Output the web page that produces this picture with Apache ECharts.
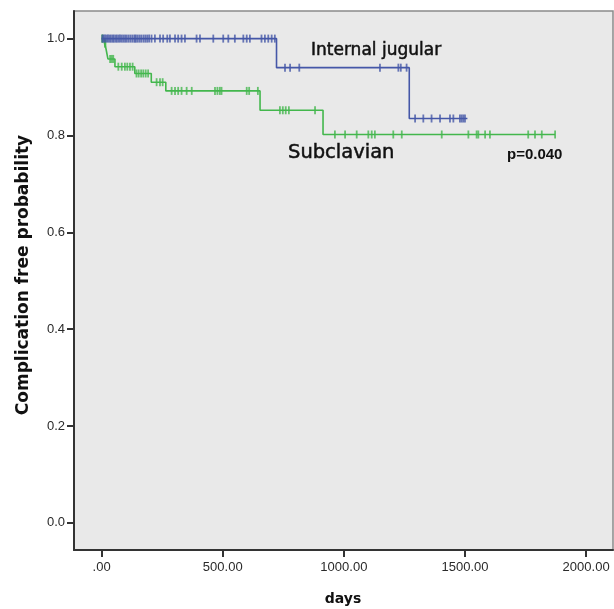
<!DOCTYPE html>
<html><head><meta charset="utf-8">
<script src="https://cdn.jsdelivr.net/npm/echarts@6/dist/echarts.min.js"></script>
<style>html,body{margin:0;padding:0;background:#fff}#c{width:614px;height:609px}</style>
</head><body><div id="c"></div><script>
// Tick labels
const xTicks = [0, 500, 1000, 1500, 2000];
const yTicks = [0, 0.2, 0.4, 0.6, 0.8, 1.0];
// Kaplan-Meier step points [days, probability]
const ijSteps = [[0, 1], [722, 0.94], [1270, 0.835], [1510, 0.835]];
const scSteps = [[0, 1], [12, 0.99], [18, 0.979], [26, 0.958], [55, 0.942], [137, 0.928], [205, 0.91], [265, 0.892], [654, 0.852], [914, 0.802], [1872, 0.802]];
// Censor times (days)
const ijCensor = [3, 8, 14, 20, 26, 32, 38, 45, 50, 57, 63, 70, 76, 83, 90, 97, 104, 112, 120, 128, 136, 140, 147, 155, 163, 172, 180, 188, 196, 206, 220, 241, 254, 271, 282, 303, 316, 330, 344, 392, 406, 461, 502, 523, 550, 585, 599, 612, 660, 674, 688, 702, 715,
  757, 778, 816, 1149, 1225, 1235, 1259,
  1294, 1328, 1362, 1397, 1438, 1452, 1479, 1486, 1493, 1500];
const scCensor = [2, 5, 14, 16, 35, 42, 48, 69, 83, 96, 106, 117, 128, 144, 153, 163, 172, 182, 192, 227, 241, 252,
  289, 303, 316, 330, 351, 372, 468, 478, 488, 495, 599, 609, 645,
  736, 748, 760, 773, 881,
  963, 1005, 1053, 1101, 1115, 1128, 1204, 1239, 1404, 1514, 1548, 1555, 1583, 1603, 1761, 1789, 1817, 1872];

function levelAt(steps, t) { let v = steps[0][1]; for (const s of steps) { if (s[0] <= t) v = s[1]; } return v; }
const blue = '#4557a8', green = '#43b74d';

const chart = echarts.init(document.getElementById('c'), null, {renderer: 'canvas'});
const axisCommon = {
  type: 'value', splitLine: {show: false},
  axisLine: {show: true, onZero: false, lineStyle: {color: '#333', width: 2}},
};
chart.setOption({
  animation: false,
  backgroundColor: '#fff',
  grid: {left: 74, right: 1, top: 11, bottom: 59, show: true, backgroundColor: '#e9e9e9', borderColor: '#8a8a8a', borderWidth: 1.5},
  xAxis: Object.assign({}, axisCommon, {
    min: -114, max: 2111,
    axisTick: {show: true, customValues: xTicks, length: 7, lineStyle: {color: '#333', width: 2}},
    axisLabel: {customValues: xTicks, margin: 11, color: '#2a2a2a', fontFamily: 'Liberation Sans, Arial', fontSize: 13,
      formatter: v => v === 0 ? '.00' : v.toFixed(2)}
  }),
  yAxis: Object.assign({}, axisCommon, {
    min: -0.056, max: 1.057,
    axisTick: {show: true, customValues: yTicks, length: 7, lineStyle: {color: '#333', width: 2}},
    axisLabel: {customValues: yTicks, margin: 9, color: '#2a2a2a', fontFamily: 'Liberation Sans, Arial', fontSize: 13,
      formatter: v => v.toFixed(1)}
  }),
  series: [
    {type: 'line', step: 'end', data: ijSteps, showSymbol: false, lineStyle: {color: blue, width: 1.6}, z: 3},
    {type: 'line', step: 'end', data: scSteps, showSymbol: false, lineStyle: {color: green, width: 1.6}, z: 2},
    {type: 'scatter', data: scCensor.map(t => [t, levelAt(scSteps, t)]), symbol: 'rect', symbolSize: [1.8, 8], itemStyle: {color: green}, z: 2},
    {type: 'scatter', data: ijCensor.map(t => [t, levelAt(ijSteps, t)]), symbol: 'rect', symbolSize: [1.8, 8], itemStyle: {color: blue}, z: 3}
  ],
  graphic: [
    {type: 'text', x: 311, y: 51, style: {text: 'Internal jugular', fontFamily: 'DejaVu Sans', fontSize: 17, fill: '#111', stroke: '#111', lineWidth: 0.5, verticalAlign: 'middle'}},
    {type: 'text', x: 288, y: 153, style: {text: 'Subclavian', fontFamily: 'DejaVu Sans', fontSize: 19.5, fill: '#111', stroke: '#111', lineWidth: 0.5, verticalAlign: 'middle'}},
    {type: 'text', x: 507, y: 155, style: {text: 'p=0.040', fontFamily: 'Liberation Sans', fontWeight: 'bold', fontSize: 15, fill: '#111', verticalAlign: 'middle'}},
    {type: 'text', x: 24, y: 275, rotation: Math.PI / 2, style: {text: 'Complication free probability', fontFamily: 'DejaVu Sans', fontWeight: 'bold', fontSize: 17, fill: '#111', align: 'center', verticalAlign: 'middle'}},
    {type: 'text', x: 343, y: 599, style: {text: 'days', fontFamily: 'DejaVu Sans', fontWeight: 'bold', fontSize: 14, fill: '#111', align: 'center', verticalAlign: 'middle'}}
  ]
});
</script></body></html>
